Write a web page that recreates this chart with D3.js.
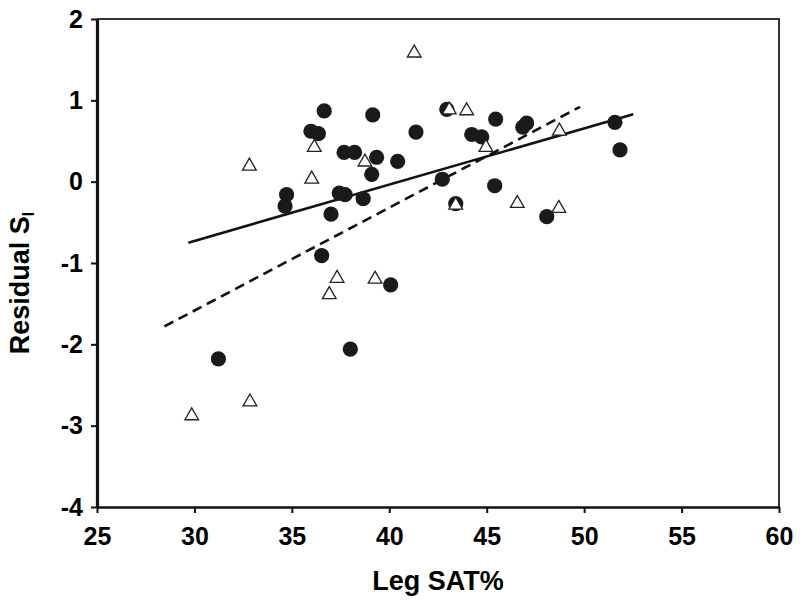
<!DOCTYPE html>
<html>
<head>
<meta charset="utf-8">
<script src="https://cdn.jsdelivr.net/npm/d3@7"></script>
<style>
  body { margin: 0; background: #fff; }
  text { font-family: "Liberation Sans", Arial, sans-serif; font-weight: bold; }
</style>
</head>
<body>
<div id="graph"></div>
<script>
var width = 800;
var height = 601;
var margin = {top: 19, right: 21, bottom: 94, left: 97};

// filled circles
var circleX = [36.66, 39.15, 35.98, 36.36, 41.37, 37.68, 38.22, 39.35, 40.43, 39.10, 34.73, 34.65, 37.43, 37.73, 38.66, 37.01, 36.53, 40.07, 31.23, 38.00, 42.95, 45.46, 47.05, 46.85, 44.23, 44.74, 42.72, 43.41, 45.41, 48.08, 51.58, 51.84];
var circleY = [0.87, 0.82, 0.62, 0.59, 0.61, 0.36, 0.36, 0.30, 0.25, 0.09, -0.16, -0.30, -0.14, -0.16, -0.21, -0.40, -0.91, -1.27, -2.18, -2.06, 0.89, 0.77, 0.72, 0.67, 0.58, 0.55, 0.03, -0.27, -0.05, -0.43, 0.73, 0.39];

// open triangles
var triX = [41.28, 43.08, 43.97, 48.73, 44.96, 43.41, 46.57, 48.70, 32.82, 36.15, 36.02, 38.75, 37.32, 36.92, 39.27, 32.85, 29.86];
var triY = [1.60, 0.90, 0.89, 0.64, 0.44, -0.27, -0.25, -0.31, 0.21, 0.44, 0.05, 0.26, -1.17, -1.37, -1.18, -2.69, -2.86];

// fit lines (end points)
var solidX = [29.69, 52.52];
var solidY = [-0.75, 0.83];
var dashX = [28.46, 49.79];
var dashY = [-1.78, 0.92];

var xTicks = [25, 30, 35, 40, 45, 50, 55, 60];
var yTicks = [-4, -3, -2, -1, 0, 1, 2];

var svg = d3.select("#graph")
    .append("svg")
    .attr("width", width)
    .attr("height", height);

var x = d3.scaleLinear().domain([25, 60]).range([margin.left, width - margin.right]);
var y = d3.scaleLinear().domain([-4, 2]).range([height - margin.bottom, margin.top]);

var plain = function(d) { return String(d); };

// top and right frame
svg.append("path")
    .attr("d", "M" + x(25) + "," + y(2) + "H" + x(60) + "V" + y(-4))
    .attr("fill", "none")
    .attr("stroke", "#333")
    .attr("stroke-width", 2);

var xAxis = svg.append("g")
    .attr("transform", "translate(0," + y(-4) + ")")
    .call(d3.axisBottom(x).tickValues(xTicks).tickFormat(plain).tickSize(6).tickSizeOuter(0).tickPadding(14));
xAxis.select(".domain").attr("stroke", "#111").attr("stroke-width", 2.5);
xAxis.selectAll(".tick line").attr("stroke", "#111").attr("stroke-width", 2);
xAxis.selectAll("text").style("font-size", "25px").attr("fill", "#000");

var yAxis = svg.append("g")
    .attr("transform", "translate(" + x(25) + ",0)")
    .call(d3.axisLeft(y).tickValues(yTicks).tickFormat(plain).tickSize(6).tickSizeOuter(0).tickPadding(8));
yAxis.select(".domain").attr("stroke", "#111").attr("stroke-width", 3.2);
yAxis.selectAll(".tick line").attr("stroke", "#111").attr("stroke-width", 2);
yAxis.selectAll("text").style("font-size", "25px").attr("fill", "#000");

var line = d3.line()
    .x(function(d) { return x(d[0]); })
    .y(function(d) { return y(d[1]); });

svg.append("path")
    .datum(d3.zip(dashX, dashY))
    .attr("d", line)
    .attr("fill", "none")
    .attr("stroke", "#111")
    .attr("stroke-width", 2.6)
    .attr("stroke-dasharray", "10,6");

svg.append("path")
    .datum(d3.zip(solidX, solidY))
    .attr("d", line)
    .attr("fill", "none")
    .attr("stroke", "#111")
    .attr("stroke-width", 2.6);

svg.selectAll("circle.pt")
    .data(d3.zip(circleX, circleY))
    .enter().append("circle")
    .attr("class", "pt")
    .attr("cx", function(d) { return x(d[0]); })
    .attr("cy", function(d) { return y(d[1]); })
    .attr("r", 7.6)
    .attr("fill", "#1a1a1a");

var tri = d3.symbol().type(d3.symbolTriangle).size(82);
svg.selectAll("path.tri")
    .data(d3.zip(triX, triY))
    .enter().append("path")
    .attr("class", "tri")
    .attr("d", tri)
    .attr("transform", function(d) { return "translate(" + x(d[0]) + "," + (y(d[1]) + 1.5) + ")"; })
    .attr("fill", "#fff")
    .attr("stroke", "#222")
    .attr("stroke-width", 1.3);

// axis titles
svg.append("text")
    .attr("x", (x(25) + x(60)) / 2)
    .attr("y", 590)
    .attr("text-anchor", "middle")
    .style("font-size", "27px")
    .text("Leg SAT%");

var yt = svg.append("text")
    .attr("transform", "translate(29," + 283 + ") rotate(-90)")
    .attr("text-anchor", "middle")
    .style("font-size", "27px");
yt.append("tspan").text("Residual S");
yt.append("tspan").style("font-size", "16px").attr("dy", 5).text("I");
</script>
</body>
</html>
